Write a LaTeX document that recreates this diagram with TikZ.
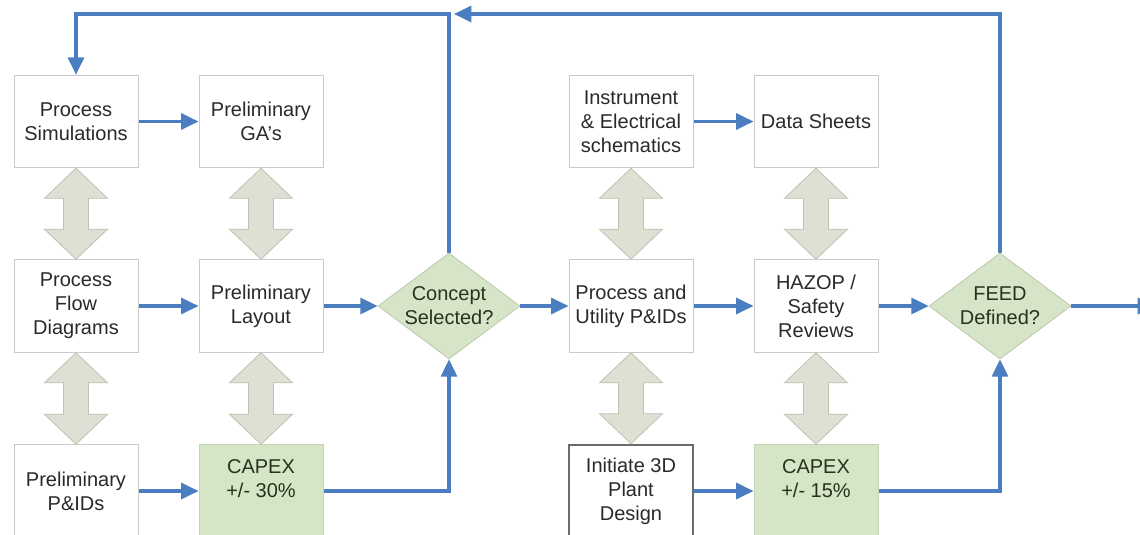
\documentclass[tikz,border=0pt]{standalone}
\usepackage{fontspec}
\setmainfont{Liberation Sans}
\usetikzlibrary{shapes.geometric,arrows.meta,calc}

\definecolor{flowblue}{HTML}{4A7EC0}
\definecolor{boxline}{HTML}{CBCBCB}
\definecolor{capexgreen}{HTML}{D5E6C6}
\definecolor{decidegreen}{HTML}{D6E4C7}
\definecolor{linkfill}{HTML}{DDE0D2}
\definecolor{linkline}{HTML}{BEC2B3}
\definecolor{txt}{HTML}{2A2A2A}
\definecolor{greentxt}{HTML}{27321F}

% block arrow pointing both ways between two stacked boxes
\newcommand{\twoway}[2]{%
  \filldraw[link] (#1.south) -- ++(31.5,30) -- ++(-19,0) -- ($(#2.north)+(12.5,-30)$)
    -- ++(19,0) -- (#2.north) -- ++(-31.5,-30) -- ++(19,0)
    -- ($(#1.south)+(-12.5,30)$) -- ++(-19,0) -- cycle;}

\begin{document}
\begin{tikzpicture}[x=0.75pt,y=-0.75pt,
    box/.style={draw=boxline,line width=0.75pt,fill=white,minimum width=93pt,minimum height=69.4pt,
      align=center,font=\fontsize{15}{18}\selectfont,text=txt,inner sep=2pt},
    capex/.style={box,fill=capexgreen,draw=capexgreen!92!black,text=greentxt},
    plant/.style={box,draw=black!58,line width=1.5pt},
    decide/.style={diamond,draw=decidegreen!88!black,line width=0.6pt,fill=decidegreen,inner sep=0pt,
      minimum width=106.5pt,minimum height=79.5pt},
    dtext/.style={align=center,font=\fontsize{15}{18}\selectfont,text=greentxt},
    flow/.style={draw=flowblue,line width=2.4pt,-{Triangle[length=13pt,width=12pt]}},
    link/.style={fill=linkfill,draw=linkline,line width=0.6pt}]

  \fill[white] (0,0) rectangle (1140,535);
  \clip (0,0) rectangle (1140,535);

  % concept stage
  \node[box] (sim) at (76,121.5) {Process\\Simulations};
  \node[box] (ga) at (261,121.5) {Preliminary\\GA's};
  \node[box] (pfd) at (76,306) {Process\\Flow\\Diagrams};
  \node[box] (lay) at (261,306) {Preliminary\\Layout};
  \node[box] (pid) at (76,491) {Preliminary\\P\&IDs};
  \node[capex] (capa) at (261,491) {CAPEX\\+/- 30\%\\~};
  \node[decide] (concept) at (449,306) {};
  \node[dtext] at (concept) {Concept\\Selected?};

  % FEED stage
  \node[box] (ie) at (631,121.5) {Instrument\\\& Electrical\\schematics};
  \node[box] (ds) at (816,121.5) {Data Sheets};
  \node[box] (pu) at (631,306) {Process and\\Utility P\&IDs};
  \node[box] (haz) at (816,306) {HAZOP /\\Safety\\Reviews};
  \node[plant] (d3) at (631,491) {Initiate 3D\\Plant\\Design};
  \node[capex] (capb) at (816,491) {CAPEX\\+/- 15\%\\~};
  \node[decide] (feed) at (1000,306) {};
  \node[dtext] at (feed) {FEED\\Defined?};

  \coordinate (loopa) at (76,14);
  \coordinate (join) at (454,14);
  \coordinate (exit) at (1155,306);

  \twoway{sim}{pfd}
  \twoway{pfd}{pid}
  \twoway{ga}{lay}
  \twoway{lay}{capa}
  \twoway{ie}{pu}
  \twoway{pu}{d3}
  \twoway{ds}{haz}
  \twoway{haz}{capb}

  \draw[flow] (sim) -- (ga);
  \draw[flow] (pfd) -- (lay);
  \draw[flow] (pid) -- (capa);
  \draw[flow] (lay) -- (concept);
  \draw[flow] (capa) -| (concept);
  \draw[flow] (concept) |- (loopa) -- (sim);
  \draw[flow] (concept) -- (pu);
  \draw[flow] (ie) -- (ds);
  \draw[flow] (pu) -- (haz);
  \draw[flow] (haz) -- (feed);
  \draw[flow] (d3) -- (capb);
  \draw[flow] (capb) -| (feed);
  \draw[flow] (feed) |- (join);
  \draw[flow] (feed) -- (exit);

\end{tikzpicture}
\end{document}
